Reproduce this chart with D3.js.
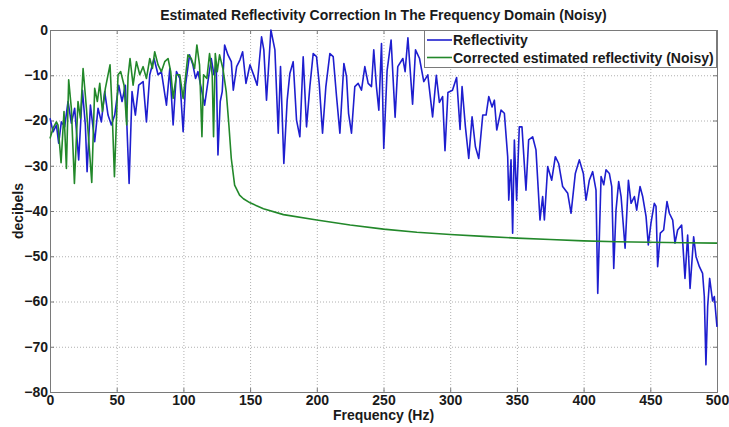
<!DOCTYPE html>
<html>
<head>
<meta charset="utf-8">
<script src="https://cdn.jsdelivr.net/npm/d3@7"></script>
<style>
	body { margin: 0; background: #fff; }
	svg text { font-family: Arial, "Liberation Sans", sans-serif; font-weight: bold; fill: #1a1a1a; }
</style>
</head>
<body>
<div id="chart"></div>
<script>

// Reflectivity (blue): frequency in Hz, level in dB
var reflFreq = [ 0, 2.3, 4.8, 6.5, 8.5, 11, 13.5, 16, 18.5, 21.5, 24.3, 26.5, 27.8, 30.3, 33.5, 36, 38.5, 41, 43.5, 46, 48.5, 51.5, 54, 56.5, 59.3, 61.5, 64, 66.5, 69.8, 72.3, 74.8, 78, 81, 83.5, 87.3, 89.8, 92.3, 94.8, 97.3, 99.8, 101.6, 104.6, 107.1, 109.1, 110.9, 113.4, 115.9, 118.4, 120.9, 122.9, 124.6, 125.9, 127.6, 129.1, 130.9, 133.4, 135.9, 137.4, 139.9, 142.4, 144.4, 146.9, 149.9, 153.1, 155.3, 158.6, 160.3, 162.3, 165.6, 168.6, 171.1, 172.8, 175.3, 177.8, 179.8, 182.3, 184.8, 187.3, 189.8, 192.3, 194.8, 197.3, 199.8, 201.8, 204.3, 206.8, 209.8, 212.3, 214.8, 217.3, 220.3, 222.3, 223.8, 226, 228.5, 231, 233.5, 236, 238.5, 241, 242.7, 244.7, 246.5, 248.5, 250.2, 252.7, 255.7, 258.7, 260.7, 264.5, 266.2, 268.3, 271.8, 274, 277, 280.2, 283.2, 286.8, 289.6, 291.9, 294.3, 296.1, 298.3, 301.7, 304.8, 307.4, 308.9, 311.4, 313.9, 316.4, 318.9, 321.4, 324.4, 326.9, 328.9, 331.4, 333.1, 334.9, 338.1, 340.6, 343.1, 343.9, 345.6, 346.8, 348.1, 349.8, 351.8, 353.8, 356.8, 358.8, 361.8, 364.3, 367.3, 369.3, 370.6, 373.1, 376.1, 378.8, 381.3, 384.3, 388.1, 390.6, 393.8, 396.8, 399.8, 401.8, 404.3, 406.8, 409.3, 410.6, 413.1, 415.1, 416.8, 419.3, 421.1, 422.6, 424.3, 426.3, 428.1, 431.1, 433.6, 435.6, 438.1, 439.8, 442.3, 444.3, 446.8, 448.5, 450.5, 453, 454.3, 455.5, 457.5, 460, 462.5, 464.3, 466.8, 468.5, 470.5, 473.5, 476, 478, 479.8, 482.5, 484.3, 486.8, 489.2, 490.5, 491.7, 493, 494.5, 496.7, 498, 500 ];
var reflDb = [ -19.5, -22.5, -21, -25, -20.3, -21.4, -15.8, -20.6, -17.3, -28.7, -13.3, -21, -31.3, -16.6, -24.7, -17.3, -20.3, -13.6, -18.8, -21, -18.8, -12.2, -15.8, -12.2, -33.9, -13.6, -18.8, -12.2, -11.4, -20.3, -9.9, -6.3, -9.9, -9.2, -16.6, -8.5, -21, -9.2, -10.7, -22.5, -12.2, -5.5, -7.7, -10.7, -9.2, -12.9, -16.6, -11.4, -6.3, -9.9, -7.7, -27.6, -15.8, -13.6, -3.3, -5.5, -7, -13.3, -8.1, -6.6, -4.8, -11.8, -7.7, -10.3, -12.2, -1.5, -4.4, -15.5, 0, -4.4, -22.8, -8.1, -29.5, -15.5, -9.6, -7, -19.9, -23.6, -5.9, -21.4, -12.5, -5.2, -5.9, -11.8, -22.8, -12.5, -5.2, -5.9, -14.7, -22.8, -7.4, -10.3, -18.4, -22.8, -12.5, -11.8, -13.3, -8.1, -11.8, -12.5, -4.4, -12.5, -17.7, -3, -26.2, -9, -2.2, -19.3, -8.1, -6.3, -9.2, -1.7, -16.4, -4.4, -6.3, -11.4, -9.9, -19.2, -10, -16, -14.7, -26.7, -13.8, -13.3, -10.5, -22, -12.5, -21.4, -28.4, -19.2, -25.8, -28.4, -18.8, -18.8, -14.7, -17, -15.5, -22.1, -17.7, -18.4, -28, -37.6, -28.7, -44.9, -24.3, -37.6, -21.4, -21.4, -35.4, -24.3, -23.6, -26.5, -42, -36.8, -42, -30.2, -33.2, -28, -29.5, -34.6, -36.1, -40.5, -31.7, -28.7, -31.7, -37.6, -33.2, -31.3, -35.4, -58.2, -32.4, -34.2, -30.9, -31.7, -34.6, -52.7, -39.8, -33.5, -36.8, -48.2, -33.2, -38.3, -36.8, -39.8, -34.6, -36.8, -41.2, -47.5, -42.7, -38.3, -39, -52.3, -44.9, -44.2, -37.9, -40.5, -42, -47.1, -44.2, -43.1, -54.9, -45.3, -57.1, -45.7, -50.1, -52.3, -53.8, -58.9, -74, -61.1, -54.9, -59.9, -58.9, -65.6 ];

// Corrected estimated reflectivity (green)
var corrFreq = [ 0, 2.3, 4.8, 6, 8.3, 10.5, 12.3, 14, 16, 18.3, 21, 22.8, 24.8, 27.3, 31.3, 33.5, 35.5, 37.3, 39.3, 41.5, 43.5, 45, 46.5, 48.3, 51, 53, 55.5, 57.5, 58.5, 60, 62.3, 64.8, 67.3, 69.8, 72.3, 74.8, 76.8, 78.5, 81, 83.5, 86, 88.5, 90.5, 92.3, 94.8, 97.3, 99.8, 103.4, 105.9, 108.4, 110.1, 112.1, 113.9, 115.1, 117.6, 119.6, 121.6, 122.6, 123.9, 125.4, 127.1, 129.6, 132.1, 134.1, 135.9, 138.4, 142.1, 145, 150, 160, 175, 200, 225, 250, 275, 300, 325, 350, 375, 400, 425, 450, 475, 500 ];
var corrDb = [ -24, -21.7, -20.3, -21, -29.3, -18, -30.6, -11, -17.3, -33.9, -15.8, -19.5, -8.5, -17.3, -33.7, -12.9, -15.8, -11.8, -18, -12.9, -9.9, -7.7, -17.3, -32.4, -9.9, -9.2, -12.2, -21, -10.3, -6.3, -12.2, -7, -9.9, -8.1, -10.7, -6.3, -8.5, -4.8, -7.7, -9.2, -7, -6.3, -9.2, -15.1, -9.9, -9.9, -15.1, -5.5, -6.3, -8.5, -3.3, -7.7, -23.6, -9.9, -10.7, -5.2, -9.9, -23.6, -5.2, -9.2, -5.5, -8.5, -13.6, -21, -28.4, -34.3, -36.5, -37.3, -38.2, -39.5, -40.8, -42, -43.1, -44, -44.7, -45.2, -45.6, -46, -46.3, -46.6, -46.8, -46.9, -47, -47.1 ];

var seriesNames = [ 'Reflectivity', 'Corrected estimated reflectivity (Noisy)' ];
var seriesColors = [ '#1e1ecf', '#22882a' ];
var xTicks = [ 0, 50, 100, 150, 200, 250, 300, 350, 400, 450, 500 ];
var yTicks = [ 0, -10, -20, -30, -40, -50, -60, -70, -80 ];

var width = 729,
	height = 427,
	padding = { top: 30, right: 12, bottom: 35, left: 50 };

var cwidth = width - padding.left - padding.right,
	cheight = height - padding.top - padding.bottom;

var svg = d3.select( '#chart' ).append( 'svg' )
	.attr( 'width', width )
	.attr( 'height', height );

var guts = svg.append( 'g' )
	.attr( 'transform', 'translate(' + padding.left + ',' + padding.top + ')' );

var x = d3.scaleLinear().domain( [ 0, 500 ] ).range( [ 0, cwidth ] );
var y = d3.scaleLinear().domain( [ -80, 0 ] ).range( [ cheight, 0 ] );

// dotted grid
guts.append( 'g' )
	.selectAll( 'line' )
	.data( xTicks.slice( 1, -1 ) )
	.enter().append( 'line' )
	.attr( 'x1', function ( d ) { return x( d ) + 0.5; } )
	.attr( 'x2', function ( d ) { return x( d ) + 0.5; } )
	.attr( 'y1', 0 )
	.attr( 'y2', cheight )
	.attr( 'stroke', '#b0b0b0' )
	.attr( 'stroke-dasharray', '1,2' );

guts.append( 'g' )
	.selectAll( 'line' )
	.data( yTicks.slice( 1, -1 ) )
	.enter().append( 'line' )
	.attr( 'x1', 0 )
	.attr( 'x2', cwidth )
	.attr( 'y1', function ( d ) { return y( d ) + 0.5; } )
	.attr( 'y2', function ( d ) { return y( d ) + 0.5; } )
	.attr( 'stroke', '#b0b0b0' )
	.attr( 'stroke-dasharray', '1,2' );

// axes, ticks pointing inwards like matlab
var xAxis = d3.axisBottom( x ).tickValues( xTicks ).tickSize( -4 ).tickPadding( 3 ).tickFormat( d3.format( 'd' ) );
var yAxis = d3.axisLeft( y ).tickValues( yTicks ).tickSize( -4 ).tickPadding( 2 ).tickFormat( d3.format( 'd' ) );

var xAxisEl = guts.append( 'g' )
	.attr( 'transform', 'translate(0,' + cheight + ')' )
	.call( xAxis );
var yAxisEl = guts.append( 'g' ).call( yAxis );

guts.append( 'g' ).call( d3.axisTop( x ).tickValues( xTicks ).tickSize( -4 ).tickFormat( '' ) );
guts.append( 'g' )
	.attr( 'transform', 'translate(' + cwidth + ',0)' )
	.call( d3.axisRight( y ).tickValues( yTicks ).tickSize( -4 ).tickFormat( '' ) );

guts.selectAll( '.domain, .tick line' ).attr( 'stroke', '#7a7a7a' );
guts.selectAll( '.tick text' ).style( 'font-size', '14px' );

// lines
var line = d3.line()
	.x( function ( d ) { return x( d[0] ); } )
	.y( function ( d ) { return y( d[1] ); } );

var refl = reflFreq.map( function ( f, i ) { return [ f, reflDb[i] ]; } );
var corr = corrFreq.map( function ( f, i ) { return [ f, corrDb[i] ]; } );

guts.append( 'path' )
	.datum( refl )
	.attr( 'd', line )
	.attr( 'fill', 'none' )
	.attr( 'stroke', seriesColors[0] )
	.attr( 'stroke-width', 1.6 )
	.attr( 'stroke-linejoin', 'round' );

guts.append( 'path' )
	.datum( corr )
	.attr( 'd', line )
	.attr( 'fill', 'none' )
	.attr( 'stroke', seriesColors[1] )
	.attr( 'stroke-width', 1.6 )
	.attr( 'stroke-linejoin', 'round' );

// legend, top right corner of the axes
var legend = guts.append( 'g' )
	.attr( 'transform', 'translate(' + ( cwidth - 293 ) + ',0)' );

legend.append( 'rect' )
	.attr( 'x', 0.5 )
	.attr( 'y', 0.5 )
	.attr( 'width', 292 )
	.attr( 'height', 37 )
	.attr( 'fill', '#fff' )
	.attr( 'stroke', '#7a7a7a' );

seriesNames.forEach( function ( name, i ) {
	var ly = 10 + i * 17.5;
	legend.append( 'line' )
		.attr( 'x1', 3 )
		.attr( 'x2', 28 )
		.attr( 'y1', ly )
		.attr( 'y2', ly )
		.attr( 'stroke', seriesColors[i] )
		.attr( 'stroke-width', 1.6 );
	legend.append( 'text' )
		.attr( 'x', 29 )
		.attr( 'y', ly + 5 )
		.style( 'font-size', '14px' )
		.text( name );
} );

// titles
svg.append( 'text' )
	.attr( 'x', padding.left + cwidth / 2 )
	.attr( 'y', 20 )
	.attr( 'text-anchor', 'middle' )
	.style( 'font-size', '14px' )
	.text( 'Estimated Reflectivity Correction In The Frequency Domain (Noisy)' );

svg.append( 'text' )
	.attr( 'x', padding.left + cwidth / 2 )
	.attr( 'y', 420 )
	.attr( 'text-anchor', 'middle' )
	.style( 'font-size', '14px' )
	.text( 'Frequency (Hz)' );

svg.append( 'text' )
	.attr( 'transform', 'translate(23,' + ( padding.top + cheight / 2 ) + ') rotate(-90)' )
	.attr( 'text-anchor', 'middle' )
	.style( 'font-size', '14px' )
	.text( 'decibels' );

</script>
</body>
</html>
